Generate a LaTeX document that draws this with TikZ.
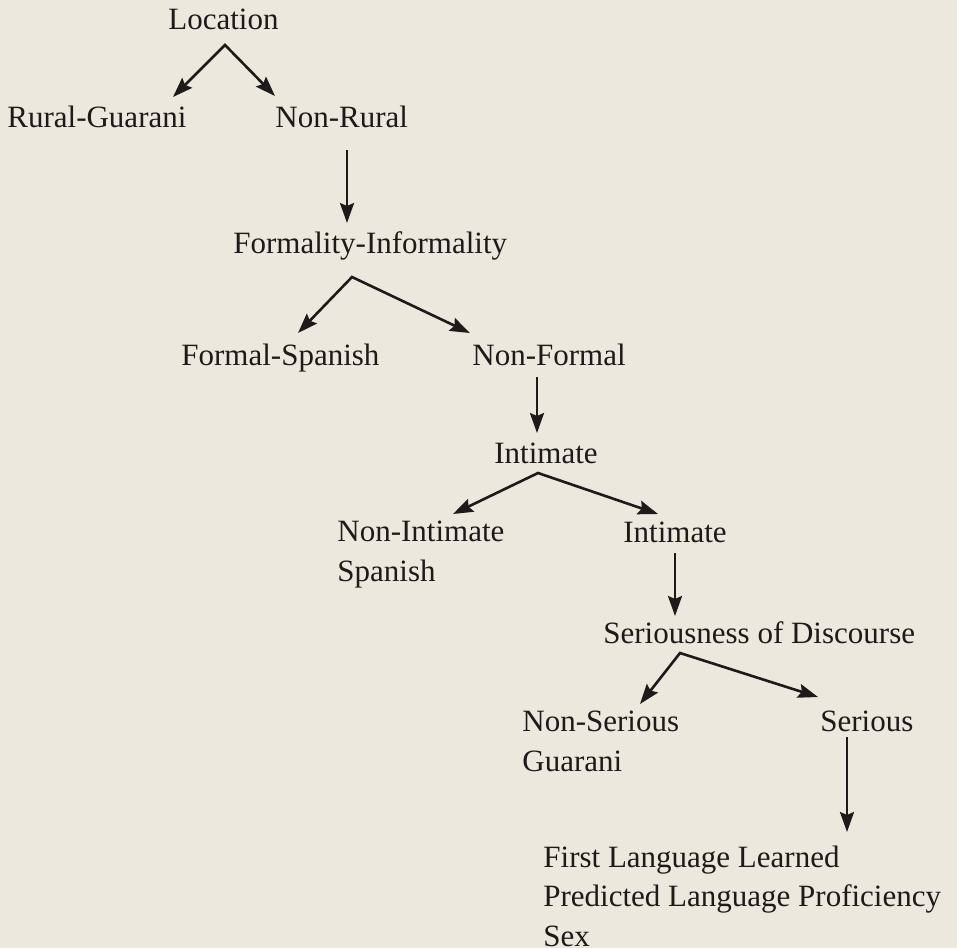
\documentclass[tikz,border=0pt]{standalone}
\usepackage{fontspec}
\setmainfont{Liberation Serif}
\usetikzlibrary{arrows.meta}
\definecolor{paper}{RGB}{236,232,222}
\definecolor{ink}{RGB}{30,26,26}
\tikzset{
  lbl/.style={anchor=base west, inner sep=0pt, text=ink, align=left,
    font=\fontsize{15.5}{19.75}\selectfont},
  arr/.style={draw=ink, line width=1.3pt,
    -{Stealth[length=10pt,width=7pt,inset=1.5pt]}},
  fork/.style={draw=ink, line width=1.3pt,
    {Stealth[length=10pt,width=7pt,inset=1.5pt]}-{Stealth[length=10pt,width=7pt,inset=1.5pt]}},
}
\begin{document}
\begin{tikzpicture}[x=0.5pt,y=-0.5pt]
  \fill[paper] (0,0) rectangle (957,948);
  \useasboundingbox (0,0) rectangle (957,948);

  % labels, placed at their baselines (multi-line ones at the last line)
  \node[lbl] (loc) at (168,29) {Location};
  \node[lbl] (rural) at (7,127) {Rural-Guarani};
  \node[lbl] (nonrural) at (275,127) {Non-Rural};
  \node[lbl] (formality) at (233,253) {Formality-Informality};
  \node[lbl] (formal) at (181,365) {Formal-Spanish};
  \node[lbl] (nonformal) at (472,365) {Non-Formal};
  \node[lbl] (intimacy) at (494,463) {Intimate};
  \node[lbl] (nonintimate) at (337,581) {Non-Intimate\\Spanish};
  \node[lbl] (intimate) at (623,542) {Intimate};
  \node[lbl] (serious) at (603,643) {Seriousness of Discourse};
  \node[lbl] (nonser) at (522,771) {Non-Serious\\Guarani};
  \node[lbl] (ser) at (820,731) {Serious};
  \node[lbl] (rest) at (543,946) {First Language Learned\\Predicted Language Proficiency\\Sex};

  % forks
  \coordinate (locfork) at (225,45);
  \coordinate (formfork) at (352,277);
  \coordinate (intfork) at (538,473);
  \coordinate (serfork) at (680,653);

  \draw[fork] (173,97) -- (locfork) -- (275,96);
  \draw[fork] (298,333) -- (formfork) -- (470,333);
  \draw[fork] (453,514) -- (intfork) -- (658,514);
  \draw[fork] (640,704) -- (serfork) -- (818,697);

  % straight drops
  \draw[arr] (347,150) -- (347,223);
  \draw[arr] (537,377) -- (537,433);
  \draw[arr] (675,553) -- (675,616);
  \draw[arr] (847,737) -- (847,832);
\end{tikzpicture}
\end{document}
